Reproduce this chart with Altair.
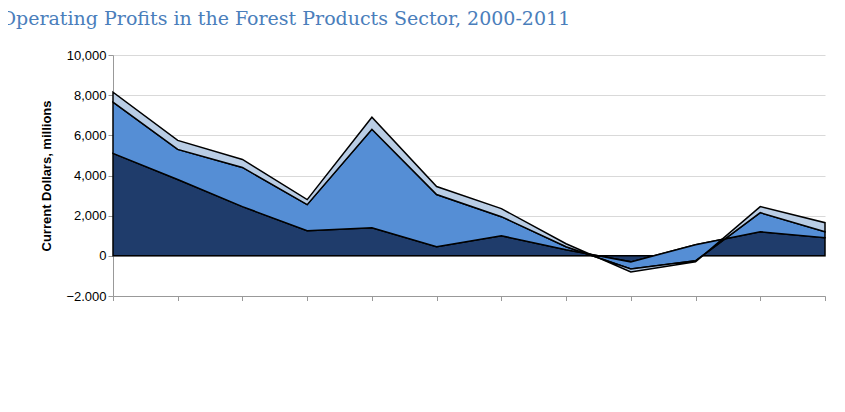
import altair as alt
import pandas as pd

years = [str(y) for y in range(2000, 2012)]
paper = [5100, 3800, 2450, 1250, 1400, 450, 1000, 300, -300, 550, 1200, 900]
wood = [2550, 1500, 1950, 1300, 4900, 2600, 950, 150, -350, -800, 950, 300]
forestry = [500, 450, 400, 250, 600, 400, 400, 150, -150, -50, 300, 450]
series = ["Forestry and Logging", "Wood Product Manufacturing", "Paper Manufacturing"]
colors = ["#B9CDE5", "#558ED5", "#1F3C6B"]

rows = []
for i, yr in enumerate(years):
    c1 = paper[i]
    c2 = c1 + wood[i]
    c3 = c2 + forestry[i]
    rows.append(dict(year=yr, s="Paper Manufacturing", lo=0, hi=c1, o=3))
    rows.append(dict(year=yr, s="Wood Product Manufacturing", lo=c1, hi=c2, o=2))
    rows.append(dict(year=yr, s="Forestry and Logging", lo=c2, hi=c3, o=1))
df = pd.DataFrame(rows)

W, H = 712, 241

area = alt.Chart(df).mark_area(stroke="black", strokeWidth=1.5, opacity=1).encode(
    x=alt.X("year:O", scale=alt.Scale(type="point", padding=0), axis=alt.Axis(
        title=None, labelAngle=-45, labelFont="Liberation Sans", labelFontSize=13, labelFontWeight="bold",
        labelColor="black", labelAlign="right", labelBaseline="middle", labelPadding=8,
        domainColor="#999", tickColor="#999", grid=False)),
    y=alt.Y("lo:Q", scale=alt.Scale(domain=[-2000, 10000]), axis=alt.Axis(
        title="Current Dollars, millions", titleFont="Liberation Sans", titleFontSize=13,
        titleColor="black", titleFontWeight="bold", format=",d", values=list(range(-2000, 10001, 2000)),
        labelOverlap=False, labelFont="Liberation Sans", labelFontSize=13, labelColor="black",
        gridColor="#D9D9D9", domainColor="#999", tickColor="#999", titlePadding=12)),
    y2="hi:Q",
    color=alt.Color("s:N", scale=alt.Scale(domain=series, range=colors), legend=alt.Legend(
        title=None, orient="none", legendX=0, legendY=H + 62, direction="horizontal",
        symbolType="square", symbolSize=150,
        symbolStrokeColor="black", symbolStrokeWidth=1, labelFont="Liberation Sans", labelFontSize=14,
        labelColor="black", columnPadding=85, labelLimit=400)),
    order=alt.Order("o:Q"),
)

src = alt.Chart(pd.DataFrame({"t": ["Source: Statistics Canada, Financial and Taxation Statistics for Enterprises, CANSIM table 180-0003."]})).mark_text(
    align="left", font="Liberation Serif", fontSize=14, color="black").encode(
    text="t:N", x=alt.value(-105), y=alt.value(H + 88))

chart = alt.layer(area, src).properties(
    width=W, height=H,
    autosize=alt.AutoSizeParams(type="none"),
    title=alt.TitleParams("Chart 49: Operating Profits in the Forest Products Sector, 2000-2011",
                          font="DejaVu Serif", fontSize=19, fontWeight="normal", color="#4A7EBB",
                          anchor="start", offset=20, dx=-105),
    padding={"left": 105, "top": 47, "right": 10, "bottom": 5},
).configure_view(stroke=None)

chart.save("out.html", embed_options={"renderer": "svg", "actions": False})
